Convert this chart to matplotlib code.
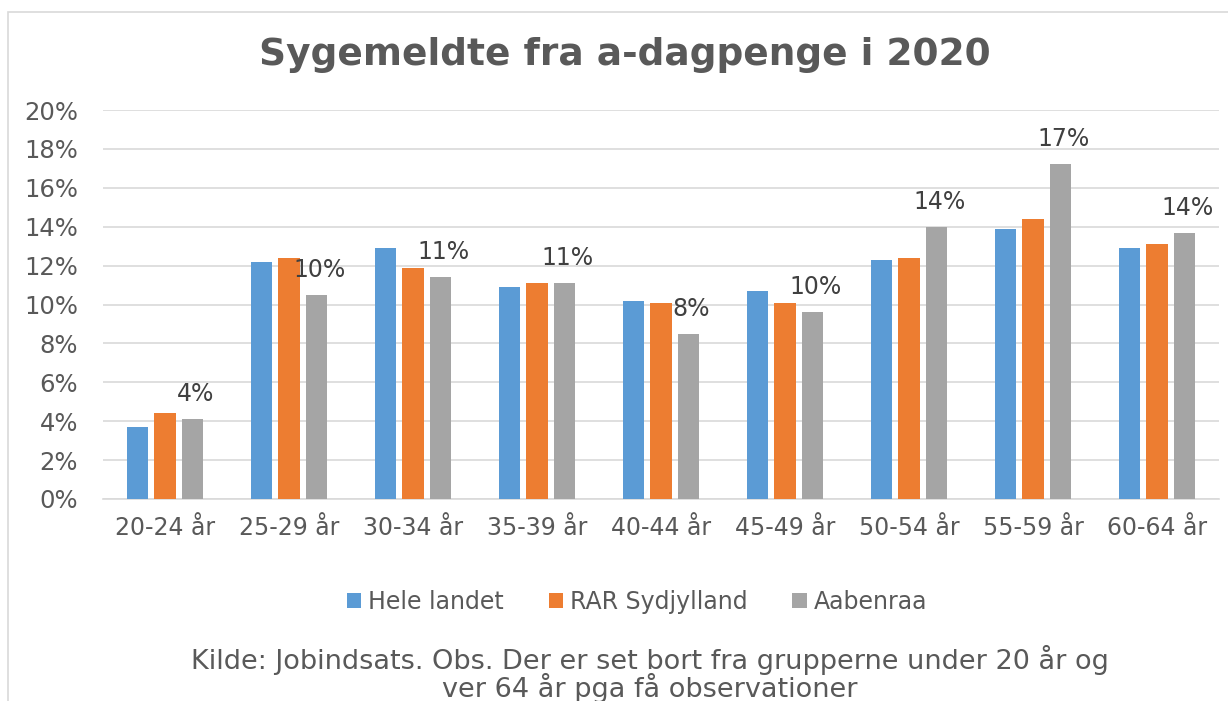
import matplotlib
matplotlib.use("Agg")
import matplotlib.pyplot as plt
import numpy as np
from matplotlib.patches import Rectangle
from matplotlib.ticker import FuncFormatter

categories = ["20-24 år", "25-29 år", "30-34 år", "35-39 år", "40-44 år",
              "45-49 år", "50-54 år", "55-59 år", "60-64 år"]
hele_landet = [3.7, 12.2, 12.9, 10.9, 10.2, 10.7, 12.3, 13.9, 12.9]
rar_sydjylland = [4.4, 12.4, 11.9, 11.1, 10.1, 10.1, 12.4, 14.4, 13.1]
aabenraa = [4.1, 10.5, 11.4, 11.1, 8.5, 9.6, 14.0, 17.2, 13.7]
series_names = ["Hele landet", "RAR Sydjylland", "Aabenraa"]
colors = ["#5B9BD5", "#ED7D31", "#A5A5A5"]
title = "Sygemeldte fra a-dagpenge i 2020"
footer = ("Kilde: Jobindsats. Obs. Der er set bort fra grupperne under 20 år og\n"
          "ver 64 år pga få observationer")

plt.rcParams["font.family"] = ["DejaVu Sans"]

W, H = 1228, 701
fig = plt.figure(figsize=(W / 100, H / 100), dpi=100)
fig.patch.set_facecolor("white")

# outer chart border (partially cropped)
fig.patches.append(Rectangle((8 / W, -0.1), 1.2, 1 - 12 / H + 0.1, transform=fig.transFigure,
                             fill=False, edgecolor="#D9D9D9", linewidth=1.2))

left, right = 103, 1219
top, bottom = 110, 499
ax = fig.add_axes([left / W, 1 - bottom / H, (right - left) / W, (bottom - top) / H])

x = np.arange(len(categories))
bw = 0.17
step = 0.22
data = [hele_landet, rar_sydjylland, aabenraa]
for i, (vals, c, name) in enumerate(zip(data, colors, series_names)):
    bars = ax.bar(x + (i - 1) * step, vals, width=bw, color=c, label=name, zorder=3)
    if i == 2:
        for b, v in zip(bars, vals):
            ax.annotate(f"{v:.0f}%", (b.get_x() + b.get_width() / 2, v),
                        xytext=(3, 25), textcoords="offset pixels",
                        ha="center", va="center", fontsize=17, color="#404040")

ax.set_xlim(-0.5, len(categories) - 0.5)
ax.set_ylim(0, 20)
ax.set_yticks(np.arange(0, 21, 2))
ax.yaxis.set_major_formatter(FuncFormatter(lambda v, p: f"{v:.0f}%"))
ax.set_xticks(x)
ax.set_xticklabels(categories)
ax.grid(axis="y", color="#D9D9D9", linewidth=1.2, zorder=0)
for s in ["top", "right", "left"]:
    ax.spines[s].set_visible(False)
ax.spines["bottom"].set_color("#D9D9D9")
ax.spines["bottom"].set_linewidth(1.2)
ax.tick_params(axis="both", length=0, labelsize=17, colors="#595959")
ax.tick_params(axis="y", labelsize=17.5, pad=18)
ax.tick_params(axis="x", pad=12)

fig.text(625 / W, 1 - 55 / H, title, ha="center", va="center", fontsize=27,
         fontweight="bold", color="#595959")

leg = fig.legend(loc="center", bbox_to_anchor=(637 / W, 1 - 602 / H), ncol=3,
                 frameon=False, fontsize=17, handlelength=0.6, handleheight=0.6,
                 handletextpad=0.3, columnspacing=1.9)
for t in leg.get_texts():
    t.set_color("#595959")

fig.text(650 / W, 1 - 674 / H, footer, ha="center", va="center", fontsize=19.5,
         color="#595959", linespacing=0.9)

fig.savefig("out.png", dpi=100)
